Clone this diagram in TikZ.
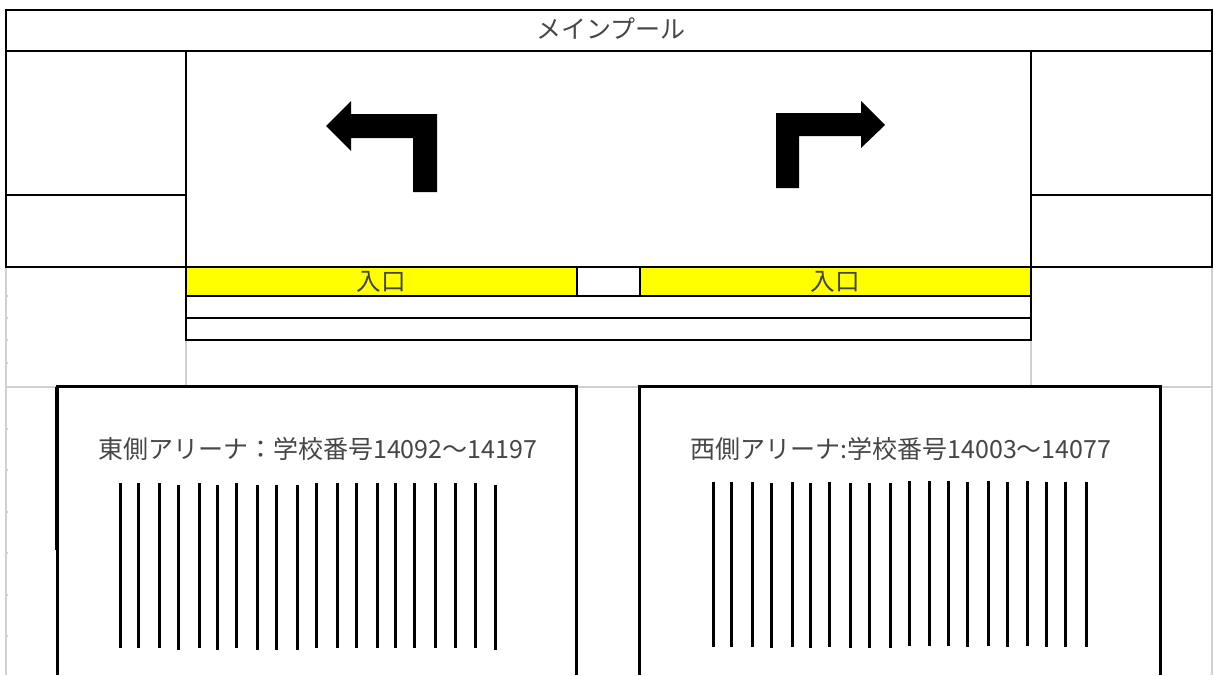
\documentclass[tikz,border=0pt]{standalone}
\usepackage{fontspec}
\setmainfont{Noto Sans CJK JP}
\usetikzlibrary{positioning}
\definecolor{gridgray}{RGB}{208,208,208}
\definecolor{textgray}{RGB}{70,70,70}
\definecolor{gateyellow}{RGB}{255,255,0}
\tikzset{
    cell/.style={draw=black,line width=1.8pt,minimum width=#1,inner sep=0pt,outer sep=0pt},
    gate/.style={cell=#1,fill=gateyellow,minimum height=29pt,text=textgray,font=\fontsize{24.6}{24.6}\selectfont},
    label/.style={text=textgray,font=\fontsize{25}{25}\selectfont},
    arena/.style={line width=3pt,black},
    bar/.style={line width=3pt,black},
    grid/.style={line width=1.6pt,gridgray},
    turn/.style={fill=black,draw=none}
}
\begin{document}
\begin{tikzpicture}[x=1pt,y=-1pt]
    \useasboundingbox (0,0) rectangle (1213,675);
    % sheet grid
    \draw[grid] (6,267) -- (6,675);
    \draw[grid] (1212,267) -- (1212,675);
    \draw[grid] (186,340) -- (186,387);
    \draw[grid] (1031,340) -- (1031,387);
    \draw[grid] (6,387) -- (57,387);
    \draw[grid] (576,387) -- (639,387);
    \draw[grid] (1160,387) -- (1212,387);
    \foreach \y in {296,318,340,363,429,470,512,553,595,636}
    {
        \draw[grid] (5,\y) -- (8,\y);
    }
    % pool
    \draw[cell=0pt] (6,10) rectangle (1212,51);
    \node[label] (pool) at (611,28.5) {メインプール};
    \draw[cell=0pt] (6,51) rectangle (186,195);
    \draw[cell=0pt] (6,195) rectangle (186,267);
    \draw[cell=0pt] (186,51) rectangle (1031,267);
    \draw[cell=0pt] (1031,51) rectangle (1212,195);
    \draw[cell=0pt] (1031,195) rectangle (1212,267);
    % arrows
    \fill[turn] (326,126) -- (351,101) -- (351,114) -- (437,114) -- (437,192) -- (413,192) -- (413,138) -- (351,138) -- (351,151) -- cycle;
    \fill[turn] (885,125) -- (861,101) -- (861,113) -- (776,113) -- (776,188) -- (799,188) -- (799,136) -- (861,136) -- (861,148) -- cycle;
    % entrance
    \node[gate=391pt,anchor=north west] (gateW) at (186,267) {入口};
    \node[cell=63pt,minimum height=29pt,right=0pt of gateW] (gateM) {};
    \node[gate=391pt,right=0pt of gateM] (gateE) {入口};
    \draw[cell=0pt] (186,296) rectangle (1031,318);
    \draw[cell=0pt] (186,318) rectangle (1031,340);
    % arenas
    \coordinate (eastTL) at (57,386.5);
    \coordinate (eastTR) at (576,386.5);
    \coordinate (westTL) at (639,386.5);
    \coordinate (westTR) at (1160,386.5);
    \draw[arena] (57,675) -- (eastTL) -- (eastTR) -- (576,675);
    \draw[arena] (639,675) -- (westTL) -- (westTR) -- (1160,675);
    \draw[line width=1pt] (55.5,386.5) -- (55.5,550);
    \node[label] (east) at (317.5,449) {東側アリーナ：学校番号14092〜14197};
    \node[label] (west) at (901,449) {西側アリーナ:学校番号14003〜14077};
    \foreach \x/\t in {120/483,138/483,159/483,178/485,199/483,217/485,236/483,257/485,276/485,297/485,316/483,337/483,356/483,377/483,395/483,414/483,435/483,455/483,475/483,495/485}
    {
        \draw[bar] (\x,\t) -- (\x,\t+165);
    }
    \foreach \x/\t in {713/482,731/482,752/482,771/483,792/482,810/483,829/482,850/483,869/483,890/483,909/481,929/481,948/481,967/482,988/481,1007/482,1027/481,1046/482,1065/482,1086/482}
    {
        \draw[bar] (\x,\t) -- (\x,\t+165);
    }
\end{tikzpicture}
\end{document}
